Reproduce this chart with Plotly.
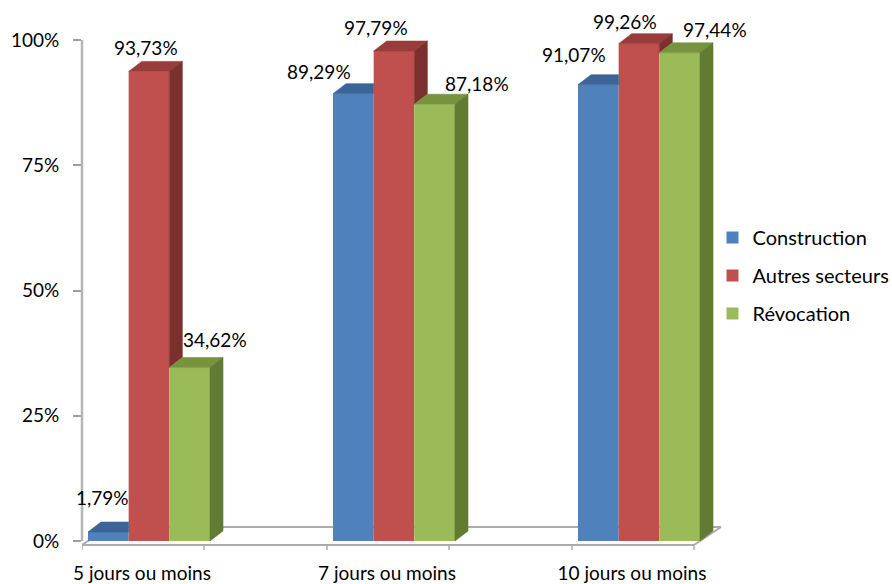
import plotly.graph_objects as go

# ---- data -------------------------------------------------------------
categories = ["5 jours ou moins", "7 jours ou moins", "10 jours ou moins"]
series_names = ["Construction", "Autres secteurs", "Révocation"]
construction = [1.79, 89.29, 91.07]
autres_secteurs = [93.73, 97.79, 99.26]
revocation = [34.62, 87.18, 97.44]
y_tick_values = [0, 25, 50, 75, 100]
y_tick_labels = ["0%", "25%", "50%", "75%", "100%"]

series_values = [construction, autres_secteurs, revocation]

# ---- styling ----------------------------------------------------------
FONT = "Lato"
FONT_SIZE = 19
front_colors = ["#4F81BD", "#C0504D", "#9BBB59"]
top_colors = ["#3B6598", "#983D3B", "#77933D"]
side_colors = ["#335782", "#7C302E", "#627B33"]
AXIS_GRAY = "#ABABAB"

W, H = 892, 584
M_L, M_R, M_T, M_B = 82, 162, 30, 32
PLOT_W = W - M_L - M_R
PLOT_H = H - M_T - M_B
PX_PER_CAT = 245.0      # pixels per category step
PX_PER_PCT = 5.01       # pixels per percentage point
ZERO_FROM_BOTTOM = 11   # pixels between plot bottom and the 0 % level

GROUP_WIDTH = 0.498
BAR_W = GROUP_WIDTH / 3

x_min = -(149 - M_L) / PX_PER_CAT
x_range = [x_min, x_min + PLOT_W / PX_PER_CAT]
y_min = -ZERO_FROM_BOTTOM / PX_PER_PCT
y_range = [y_min, y_min + PLOT_H / PX_PER_PCT]


def ux(px):
    return px / PX_PER_CAT


def uy(px):
    return px / PX_PER_PCT


# oblique depth of a bar (right / up)
DX, DY = ux(13), uy(10)
# floor edges relative to the front plane of the bars
FLOOR_FRONT = (ux(-6), uy(-4))
FLOOR_BACK = (ux(21), uy(14))

# per-label placement of the value labels (pixels from the front-top centre)
label_shift_x = [[-6, -3, 25], [-34, -18, 42], [-24, -14, 35]]
label_shift_y = [[35, 24, 28], [22, 24, 21], [30, 22, 23]]

fig = go.Figure()

# front faces
for k, name in enumerate(series_names):
    fig.add_trace(go.Bar(
        x=list(range(len(categories))), y=series_values[k], name=name,
        marker=dict(color=front_colors[k], line=dict(width=0)),
        legendgroup=name, hoverinfo="skip",
    ))


def poly(xs, ys, color):
    fig.add_trace(go.Scatter(
        x=xs + [xs[0]], y=ys + [ys[0]], mode="lines", fill="toself",
        fillcolor=color, line=dict(color=color, width=0.6),
        hoverinfo="skip", showlegend=False,
    ))


# tops and right-hand sides, only the parts not hidden by the next bar
for i in range(len(categories)):
    for k in range(len(series_names)):
        v = series_values[k][i]
        xl = i + (k - 1.5) * BAR_W
        xr = xl + BAR_W
        nxt = series_values[k + 1][i] if k + 1 < len(series_names) else None
        if nxt is not None and nxt >= v:
            poly([xl, xr, xr, xl + DX], [v, v, v + DY, v + DY], top_colors[k])
            continue
        poly([xl, xr, xr + DX, xl + DX], [v, v, v + DY, v + DY], top_colors[k])
        low = nxt if nxt is not None else 0
        poly([xr, xr, xr + DX, xr + DX], [low, v, v + DY, low + DY], side_colors[k])

# floor outline
n = len(categories)
left_edge = -1.5 * BAR_W
right_edge = (n - 1) + 1.5 * BAR_W
fx0, fy0 = left_edge + FLOOR_FRONT[0], FLOOR_FRONT[1]
fx1 = right_edge + FLOOR_FRONT[0]
bx0, by0 = left_edge + FLOOR_BACK[0], FLOOR_BACK[1]
bx1 = right_edge + FLOOR_BACK[0]
shapes = []
line_style = dict(color=AXIS_GRAY, width=2)
for (xa, ya, xb, yb) in [(bx0, by0, bx1, by0), (fx0, fy0, fx1, fy0),
                         (fx1, fy0, bx1, by0), (fx0, fy0, bx0, by0)]:
    shapes.append(dict(type="line", xref="x", yref="y", x0=xa, y0=ya, x1=xb, y1=yb,
                       line=line_style, layer="below"))
# category separators on the front edge of the floor
for i in range(n):
    for e in (-1.5 * BAR_W, 1.5 * BAR_W):
        xt = i + e + FLOOR_FRONT[0]
        shapes.append(dict(type="line", xref="x", yref="y", x0=xt, x1=xt,
                           y0=fy0, y1=fy0 - uy(5),
                           line=dict(color=AXIS_GRAY, width=1.5), layer="below"))
# value axis line
shapes.append(dict(type="line", xref="paper", yref="y", x0=0, x1=0,
                   y0=0, y1=100, line=dict(color="#B5B5B5", width=2.5)))

# value labels
annotations = []
for i in range(n):
    for k in range(len(series_names)):
        v = series_values[k][i]
        xc = i + (k - 1) * BAR_W
        annotations.append(dict(
            x=xc, y=v, xref="x", yref="y", showarrow=False,
            text=f"{v:.2f}".replace(".", ",") + "%",
            xanchor="center", yanchor="middle",
            xshift=label_shift_x[i][k], yshift=label_shift_y[i][k],
            font=dict(family=FONT, size=FONT_SIZE, color="#000000"),
        ))

fig.update_layout(
    template="none",
    width=W, height=H,
    margin=dict(l=M_L, r=M_R, t=M_T, b=M_B, pad=0, autoexpand=False),
    paper_bgcolor="white", plot_bgcolor="white",
    barmode="group", bargap=1 - GROUP_WIDTH, bargroupgap=0,
    font=dict(family=FONT, size=FONT_SIZE, color="#000000"),
    shapes=shapes, annotations=annotations,
    showlegend=True,
    legend=dict(
        x=0.973, xanchor="left", y=0.640, yanchor="top",
        traceorder="grouped", tracegroupgap=9,
        font=dict(family=FONT, size=20, color="#000000"),
        bgcolor="rgba(0,0,0,0)", borderwidth=0,
    ),
    xaxis=dict(
        range=x_range, showgrid=False, zeroline=False, showline=False,
        automargin=False,
        tickmode="array", tickvals=[i + ux(-7) for i in range(n)],
        ticktext=categories, ticks="", ticklabelstandoff=8,
        tickfont=dict(family=FONT, size=FONT_SIZE, color="#000000"),
    ),
    yaxis=dict(
        range=y_range, showgrid=False, zeroline=False, showline=False,
        automargin=False,
        tickmode="array", tickvals=y_tick_values, ticktext=y_tick_labels,
        ticks="outside", ticklen=8, tickwidth=1.5, tickcolor="#9E9E9E",
        ticklabelstandoff=10,
        tickfont=dict(family=FONT, size=FONT_SIZE, color="#000000"),
    ),
)

fig.write_html("out.html")
